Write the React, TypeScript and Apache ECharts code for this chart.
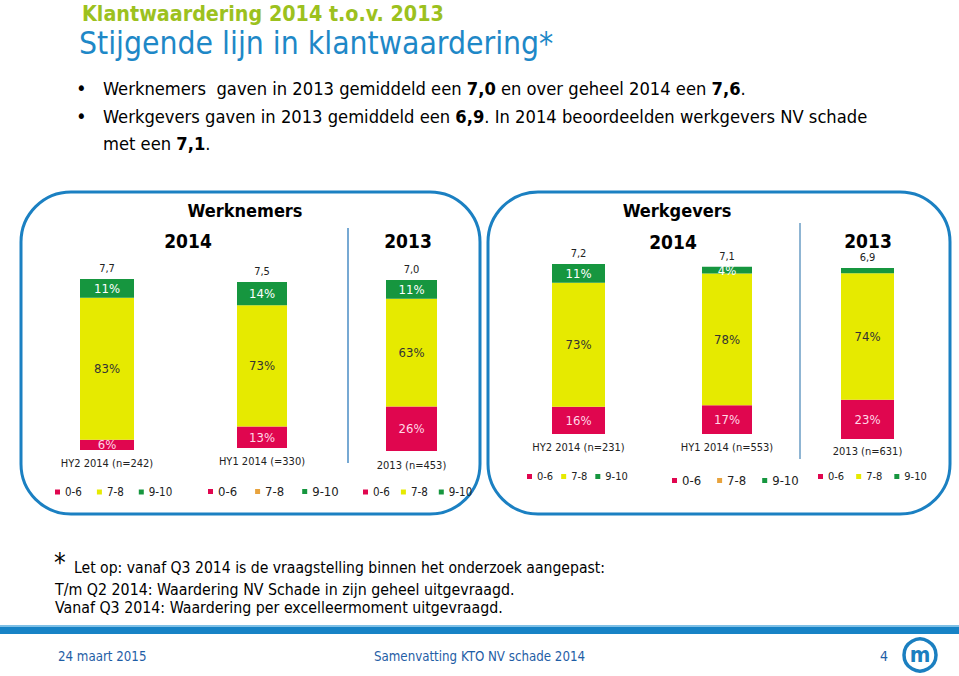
import React, { useEffect, useRef } from "react";
import * as echarts from "echarts";

// ---- data ----
const panelTitles = ["Werknemers", "Werkgevers"];
const periodTitles = ["2014", "2013", "2014", "2013"];
const categories = [
  "HY2 2014 (n=242)",
  "HY1 2014 (=330)",
  "2013 (n=453)",
  "HY2 2014 (n=231)",
  "HY1 2014 (n=553)",
  "2013 (n=631)",
];
const score06 = [6, 13, 26, 16, 17, 23];
const score78 = [83, 73, 63, 73, 78, 74];
const score910 = [11, 14, 11, 11, 4, 3];
const averages = ["7,7", "7,5", "7,0", "7,2", "7,1", "6,9"];
const legendNames = ["0-6", "7-8", "9-10"];

// ---- layout / style ----
const FF = "'DejaVu Sans Condensed', 'DejaVu Sans', sans-serif";
const RED = "#e0064f";
const YELLOW = "#e6ea00";
const GREEN = "#16963f";
const ORANGE = "#e8a33d";
const BLUE = "#1b80c2";

const grids = [
  { left: 80, width: 54, top: 279, height: 171 },
  { left: 237, width: 50, top: 282, height: 166 },
  { left: 386, width: 51, top: 280, height: 171 },
  { left: 552, width: 53, top: 264, height: 170 },
  { left: 702, width: 50, top: 265, height: 169 },
  { left: 841, width: 53, top: 268, height: 171 },
];
const labelMargins = [8, 8, 9, 8, 8, 7];
const legendPos = [
  { left: 55, top: 486, gap: 15, size: 11.5, mid: YELLOW },
  { left: 208, top: 485, gap: 18, size: 13, mid: ORANGE },
  { left: 363, top: 486, gap: 11, size: 11.5, mid: YELLOW },
  { left: 527, top: 471, gap: 8, size: 11, mid: YELLOW },
  { left: 672, top: 474, gap: 16, size: 13, mid: ORANGE },
  { left: 818, top: 471, gap: 12, size: 11, mid: YELLOW },
];

function buildOption() {
  const series: any[] = [];
  categories.forEach((cat, i) => {
    const common = {
      type: "bar",
      xAxisIndex: i,
      yAxisIndex: i,
      stack: "s" + i,
      barWidth: "100%",
    };
    series.push({
      ...common,
      name: legendNames[0],
      data: [score06[i]],
      itemStyle: { color: RED },
      label: { show: true, position: "inside", formatter: "{c}%", color: "#ffd8e6", fontFamily: FF, fontSize: 13 },
    });
    series.push({
      ...common,
      name: legendNames[1],
      data: [score78[i]],
      itemStyle: { color: YELLOW },
      label: { show: true, position: "inside", formatter: "{c}%", color: "#333", fontFamily: FF, fontSize: 13 },
    });
    series.push({
      ...common,
      name: legendNames[2],
      data: [score910[i]],
      itemStyle: { color: GREEN },
      label: {
        show: score910[i] >= 4,
        position: "inside",
        formatter: "{c}%",
        color: "#ffffff",
        fontFamily: FF,
        fontSize: 13,
      },
    });
    series.push({
      ...common,
      name: "gemiddelde",
      data: [0],
      itemStyle: { color: "transparent" },
      label: {
        show: true,
        position: "top",
        distance: 5,
        formatter: () => averages[i],
        color: "#222",
        fontFamily: FF,
        fontSize: 11,
      },
    });
  });

  const legends = legendPos.map((l) => ({
    left: l.left,
    top: l.top,
    padding: 0,
    orient: "horizontal",
    itemWidth: 5,
    itemHeight: 5,
    itemGap: l.gap,
    icon: "rect",
    selectedMode: false,
    textStyle: { fontFamily: FF, fontSize: l.size, color: "#222" },
    data: [
      { name: legendNames[0], itemStyle: { color: RED } },
      { name: legendNames[1], itemStyle: { color: l.mid } },
      { name: legendNames[2], itemStyle: { color: GREEN } },
    ],
  }));

  const t = (x: number, y: number, text: string, o: any = {}) => ({
    type: "text",
    x,
    y,
    style: {
      text,
      fontFamily: FF,
      fontSize: o.size || 12,
      fontWeight: o.weight || "normal",
      fill: o.color || "#000",
      textAlign: o.align || "left",
      textVerticalAlign: "middle",
      ...(o.rich ? { rich: o.rich } : {}),
    },
    silent: true,
  });

  const bulletRich = {
    n: { fontFamily: FF, fontSize: 18.2, color: "#000" },
    b: { fontFamily: FF, fontSize: 18.2, fontWeight: "bold", color: "#000" },
  };

  const graphic: any[] = [
    t(82, 13, "Klantwaardering 2014 t.o.v. 2013", { size: 21.3, weight: "bold", color: "#9cc11e" }),
    t(79, 43, "Stijgende lijn in klantwaardering*", { size: 31.6, color: "#1e88c7" }),
    t(76, 88, "•", { size: 20 }),
    t(76, 116, "•", { size: 20 }),
    t(103, 88, "{n|Werknemers  gaven in 2013 gemiddeld een }{b|7,0}{n| en over geheel 2014 een }{b|7,6}{n|.}", {
      size: 18.2,
      rich: bulletRich,
    }),
    t(103, 116, "{n|Werkgevers gaven in 2013 gemiddeld een }{b|6,9}{n|. In 2014 beoordeelden werkgevers NV schade}", {
      size: 18.2,
      rich: bulletRich,
    }),
    t(103, 143, "{n|met een }{b|7,1}{n|.}", { size: 18.2, rich: bulletRich }),
    {
      type: "rect",
      shape: { x: 21, y: 192, width: 459, height: 322, r: 50 },
      style: { fill: "none", stroke: BLUE, lineWidth: 3 },
      silent: true,
    },
    {
      type: "rect",
      shape: { x: 488, y: 192, width: 462, height: 322, r: 50 },
      style: { fill: "none", stroke: BLUE, lineWidth: 3 },
      silent: true,
    },
    {
      type: "line",
      shape: { x1: 348, y1: 228, x2: 348, y2: 463 },
      style: { stroke: "#4a8cc4", lineWidth: 1.5 },
      silent: true,
    },
    {
      type: "line",
      shape: { x1: 800, y1: 223, x2: 800, y2: 459 },
      style: { stroke: "#6a9cc4", lineWidth: 1.5 },
      silent: true,
    },
    t(245, 210, panelTitles[0], { size: 18, weight: "bold", align: "center" }),
    t(677, 210, panelTitles[1], { size: 18, weight: "bold", align: "center" }),
    t(188, 241, periodTitles[0], { size: 19, weight: "bold", align: "center" }),
    t(408, 241, periodTitles[1], { size: 19, weight: "bold", align: "center" }),
    t(673, 242, periodTitles[2], { size: 19, weight: "bold", align: "center" }),
    t(868, 241, periodTitles[3], { size: 19, weight: "bold", align: "center" }),
    t(54, 563, "*", { size: 26 }),
    t(74, 568, "Let op: vanaf Q3 2014 is de vraagstelling binnen het onderzoek aangepast:", { size: 15.6 }),
    t(55, 589, "T/m Q2 2014: Waardering NV Schade in zijn geheel uitgevraagd.", { size: 15.8 }),
    t(55, 607, "Vanaf Q3 2014: Waardering per excelleermoment uitgevraagd.", { size: 15.8 }),
    {
      type: "rect",
      shape: { x: 0, y: 625, width: 959, height: 2 },
      style: { fill: "#7fc0e6" },
      silent: true,
    },
    {
      type: "rect",
      shape: { x: 0, y: 627, width: 959, height: 7 },
      style: { fill: "#1783c6" },
      silent: true,
    },
    t(58, 656, "24 maart 2015", { size: 13.2, color: "#1f5ea6" }),
    t(374, 656, "Samenvatting KTO NV schade 2014", { size: 13.2, color: "#1f5ea6" }),
    t(880, 656, "4", { size: 14, color: "#1f5ea6" }),
    {
      type: "circle",
      shape: { cx: 920, cy: 655, r: 16 },
      style: { fill: "#fff", stroke: "#1b7fc0", lineWidth: 3.5 },
      silent: true,
    },
    t(920, 654, "m", { size: 22, weight: "bold", color: "#1b7fc0", align: "center" }),
  ];

  return {
    animation: false,
    backgroundColor: "#ffffff",
    textStyle: { fontFamily: FF },
    grid: grids.map((g) => ({ ...g })),
    xAxis: categories.map((c, i) => ({
      type: "category",
      gridIndex: i,
      data: [c],
      axisLine: { show: false },
      axisTick: { show: false },
      axisLabel: { margin: labelMargins[i], fontFamily: FF, fontSize: 11, color: "#222" },
    })),
    yAxis: categories.map((c, i) => ({
      type: "value",
      gridIndex: i,
      min: 0,
      max: 100,
      show: false,
    })),
    legend: legends,
    series,
    graphic,
  };
}

export default function App() {
  const ref = useRef<HTMLDivElement>(null);
  useEffect(() => {
    if (!ref.current) return;
    const chart = echarts.init(ref.current, undefined, { renderer: "svg" });
    chart.setOption(buildOption() as any);
    return () => chart.dispose();
  }, []);
  return (
    <div
      ref={ref}
      style={{ position: "fixed", left: 0, top: 0, width: 959, height: 676, background: "#fff" }}
    />
  );
}
